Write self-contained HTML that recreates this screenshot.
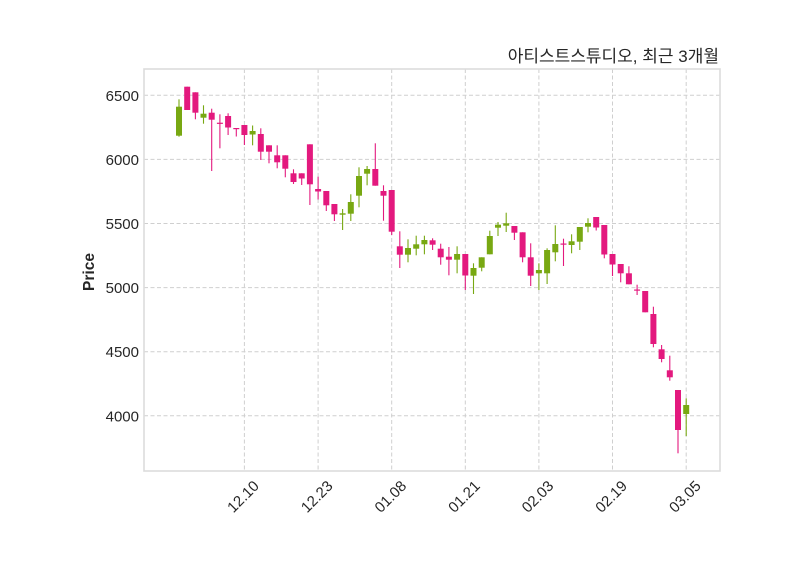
<!DOCTYPE html>
<html>
<head>
<meta charset="utf-8">
<style>
html,body{margin:0;padding:0;background:#fff;}
svg{display:block;}
text{font-family:"Liberation Sans","Noto Sans CJK KR",sans-serif;fill:#262626;}
</style>
</head>
<body>
<svg width="800" height="575" viewBox="0 0 800 575" xmlns="http://www.w3.org/2000/svg">
<rect x="0" y="0" width="800" height="575" fill="#fff"/>
<g stroke="#cfcfcf" stroke-width="1" stroke-dasharray="4,2.5" fill="none">
<line x1="144" x2="720" y1="95.3" y2="95.3"/>
<line x1="144" x2="720" y1="159.4" y2="159.4"/>
<line x1="144" x2="720" y1="223.5" y2="223.5"/>
<line x1="144" x2="720" y1="287.6" y2="287.6"/>
<line x1="144" x2="720" y1="351.7" y2="351.7"/>
<line x1="144" x2="720" y1="415.8" y2="415.8"/>
<line x1="244.4" x2="244.4" y1="69" y2="471"/>
<line x1="318.1" x2="318.1" y1="69" y2="471"/>
<line x1="391.7" x2="391.7" y1="69" y2="471"/>
<line x1="465.3" x2="465.3" y1="69" y2="471"/>
<line x1="538.9" x2="538.9" y1="69" y2="471"/>
<line x1="612.5" x2="612.5" y1="69" y2="471"/>
<line x1="686.2" x2="686.2" y1="69" y2="471"/>
</g>
<rect x="144" y="69" width="576" height="402" fill="none" stroke="#dcdcdc" stroke-width="1.6"/>
<g stroke-width="1.1">
<g stroke="#78a812" fill="#78a812">
<line x1="179" x2="179" y1="99.3" y2="136.7"/><rect x="176" y="106.7" width="6" height="29" stroke="none"/>
<line x1="203.5" x2="203.5" y1="105.3" y2="123.7"/><rect x="200.5" y="113.7" width="6" height="4" stroke="none"/>
<line x1="252.6" x2="252.6" y1="125.5" y2="145.3"/><rect x="249.6" y="131" width="6" height="3.5" stroke="none"/>
<line x1="342.6" x2="342.6" y1="209" y2="230"/><rect x="339.6" y="213.3" width="6" height="1.4" stroke="none"/>
<line x1="350.8" x2="350.8" y1="194.3" y2="221"/><rect x="347.8" y="202" width="6" height="11.7" stroke="none"/>
<line x1="359" x2="359" y1="167.3" y2="207.3"/><rect x="356" y="176" width="6" height="19.7" stroke="none"/>
<line x1="367.1" x2="367.1" y1="166" y2="185.3"/><rect x="364.1" y="169" width="6" height="4.7" stroke="none"/>
<line x1="408" x2="408" y1="239.3" y2="262.3"/><rect x="405" y="248" width="6" height="6.7" stroke="none"/>
<line x1="416.2" x2="416.2" y1="235.7" y2="255.3"/><rect x="413.2" y="244.3" width="6" height="4.4" stroke="none"/>
<line x1="424.4" x2="424.4" y1="235.7" y2="254.3"/><rect x="421.4" y="240" width="6" height="4.3" stroke="none"/>
<line x1="457.1" x2="457.1" y1="246.3" y2="273.3"/><rect x="454.1" y="254" width="6" height="5.7" stroke="none"/>
<line x1="473.5" x2="473.5" y1="263.3" y2="294"/><rect x="470.5" y="268" width="6" height="7.7" stroke="none"/>
<line x1="481.7" x2="481.7" y1="257.3" y2="271.3"/><rect x="478.7" y="257.3" width="6" height="10.4" stroke="none"/>
<line x1="489.8" x2="489.8" y1="230.7" y2="254.3"/><rect x="486.8" y="236" width="6" height="18.3" stroke="none"/>
<line x1="498" x2="498" y1="222" y2="236"/><rect x="495" y="224.7" width="6" height="3" stroke="none"/>
<line x1="506.2" x2="506.2" y1="212.7" y2="232"/><rect x="503.2" y="223.3" width="6" height="2.4" stroke="none"/>
<line x1="538.9" x2="538.9" y1="263.3" y2="290"/><rect x="535.9" y="270" width="6" height="3.3" stroke="none"/>
<line x1="547.1" x2="547.1" y1="248.3" y2="284"/><rect x="544.1" y="250" width="6" height="23.3" stroke="none"/>
<line x1="555.3" x2="555.3" y1="225.3" y2="261.3"/><rect x="552.3" y="244" width="6" height="8.3" stroke="none"/>
<line x1="571.6" x2="571.6" y1="234.3" y2="253.3"/><rect x="568.6" y="241.3" width="6" height="3.7" stroke="none"/>
<line x1="579.8" x2="579.8" y1="227" y2="250"/><rect x="576.8" y="227" width="6" height="14.7" stroke="none"/>
<line x1="588" x2="588" y1="218.3" y2="232.3"/><rect x="585" y="223" width="6" height="3.7" stroke="none"/>
<line x1="686.2" x2="686.2" y1="398.3" y2="436"/><rect x="683.2" y="405" width="6" height="9" stroke="none"/>
</g>
<g stroke="#e3197e" fill="#e3197e">
<line x1="187.2" x2="187.2" y1="86.7" y2="110"/><rect x="184.2" y="86.7" width="6" height="23.3" stroke="none"/>
<line x1="195.4" x2="195.4" y1="92.3" y2="119.3"/><rect x="192.4" y="92.3" width="6" height="20.4" stroke="none"/>
<line x1="211.7" x2="211.7" y1="108.7" y2="171"/><rect x="208.7" y="112.7" width="6" height="7" stroke="none"/>
<line x1="219.9" x2="219.9" y1="114.3" y2="148.3"/><rect x="216.9" y="122.7" width="6" height="1.2" stroke="none"/>
<line x1="228.1" x2="228.1" y1="113.3" y2="135"/><rect x="225.1" y="116" width="6" height="11.5" stroke="none"/>
<line x1="236.3" x2="236.3" y1="128" y2="136.5"/><rect x="233.3" y="128" width="6" height="1.2" stroke="none"/>
<line x1="244.4" x2="244.4" y1="125" y2="145"/><rect x="241.4" y="125" width="6" height="10" stroke="none"/>
<line x1="260.8" x2="260.8" y1="128.3" y2="160"/><rect x="257.8" y="134" width="6" height="17.7" stroke="none"/>
<line x1="269" x2="269" y1="145.3" y2="163.3"/><rect x="266" y="145.3" width="6" height="6.4" stroke="none"/>
<line x1="277.2" x2="277.2" y1="145.3" y2="168.3"/><rect x="274.2" y="155.3" width="6" height="7" stroke="none"/>
<line x1="285.3" x2="285.3" y1="155.3" y2="177.3"/><rect x="282.3" y="155.3" width="6" height="13.4" stroke="none"/>
<line x1="293.5" x2="293.5" y1="169.3" y2="184"/><rect x="290.5" y="173.3" width="6" height="8.7" stroke="none"/>
<line x1="301.7" x2="301.7" y1="173.3" y2="185"/><rect x="298.7" y="173.3" width="6" height="5.2" stroke="none"/>
<line x1="309.9" x2="309.9" y1="144.3" y2="205"/><rect x="306.9" y="144.3" width="6" height="40" stroke="none"/>
<line x1="318.1" x2="318.1" y1="176.7" y2="199.5"/><rect x="315.1" y="189" width="6" height="2.5" stroke="none"/>
<line x1="326.3" x2="326.3" y1="191" y2="211"/><rect x="323.3" y="191" width="6" height="14.3" stroke="none"/>
<line x1="334.4" x2="334.4" y1="204" y2="221"/><rect x="331.4" y="204" width="6" height="10.3" stroke="none"/>
<line x1="375.3" x2="375.3" y1="143.3" y2="185.7"/><rect x="372.3" y="169" width="6" height="16.7" stroke="none"/>
<line x1="383.5" x2="383.5" y1="185.3" y2="220.7"/><rect x="380.5" y="191" width="6" height="4.7" stroke="none"/>
<line x1="391.7" x2="391.7" y1="190" y2="235"/><rect x="388.7" y="190" width="6" height="41.7" stroke="none"/>
<line x1="399.8" x2="399.8" y1="231.3" y2="268"/><rect x="396.8" y="246.3" width="6" height="8.4" stroke="none"/>
<line x1="432.6" x2="432.6" y1="238.3" y2="250"/><rect x="429.6" y="240.3" width="6" height="4.4" stroke="none"/>
<line x1="440.7" x2="440.7" y1="243.7" y2="264.7"/><rect x="437.7" y="248.7" width="6" height="8.6" stroke="none"/>
<line x1="448.9" x2="448.9" y1="247" y2="275.3"/><rect x="445.9" y="256.7" width="6" height="3" stroke="none"/>
<line x1="465.3" x2="465.3" y1="254" y2="290"/><rect x="462.3" y="254" width="6" height="21.5" stroke="none"/>
<line x1="514.4" x2="514.4" y1="226" y2="240"/><rect x="511.4" y="226" width="6" height="6.7" stroke="none"/>
<line x1="522.6" x2="522.6" y1="232.3" y2="262.3"/><rect x="519.6" y="232.3" width="6" height="25" stroke="none"/>
<line x1="530.7" x2="530.7" y1="243.3" y2="286"/><rect x="527.7" y="257.3" width="6" height="18.4" stroke="none"/>
<line x1="563.5" x2="563.5" y1="238.7" y2="266"/><rect x="560.5" y="243.5" width="6" height="1.2" stroke="none"/>
<line x1="596.2" x2="596.2" y1="217" y2="230.5"/><rect x="593.2" y="217" width="6" height="10.5" stroke="none"/>
<line x1="604.3" x2="604.3" y1="225" y2="258.3"/><rect x="601.3" y="225" width="6" height="29.5" stroke="none"/>
<line x1="612.5" x2="612.5" y1="254" y2="276"/><rect x="609.5" y="254" width="6" height="10.5" stroke="none"/>
<line x1="620.7" x2="620.7" y1="264" y2="282.3"/><rect x="617.7" y="264" width="6" height="9.3" stroke="none"/>
<line x1="628.9" x2="628.9" y1="266.3" y2="284.3"/><rect x="625.9" y="273.3" width="6" height="11" stroke="none"/>
<line x1="637.1" x2="637.1" y1="284.7" y2="295"/><rect x="634.1" y="289.5" width="6" height="1.2" stroke="none"/>
<line x1="645.2" x2="645.2" y1="291" y2="312.3"/><rect x="642.2" y="291" width="6" height="21.3" stroke="none"/>
<line x1="653.4" x2="653.4" y1="306.7" y2="347.3"/><rect x="650.4" y="314" width="6" height="30" stroke="none"/>
<line x1="661.6" x2="661.6" y1="345" y2="362.3"/><rect x="658.6" y="349.3" width="6" height="9.7" stroke="none"/>
<line x1="669.8" x2="669.8" y1="355.7" y2="380.7"/><rect x="666.8" y="370.3" width="6" height="7" stroke="none"/>
<line x1="678" x2="678" y1="390" y2="453.3"/><rect x="675" y="390" width="6" height="40" stroke="none"/>
</g>
</g>
<g font-size="15" text-anchor="end">
<text x="139" y="100.8">6500</text>
<text x="139" y="164.9">6000</text>
<text x="139" y="229">5500</text>
<text x="139" y="293.1">5000</text>
<text x="139" y="357.2">4500</text>
<text x="139" y="421.3">4000</text>
</g>
<text transform="translate(94,272) rotate(-90)" text-anchor="middle" font-size="15.5" font-weight="bold">Price</text>
<g font-size="15" text-anchor="middle" dominant-baseline="central">
<text transform="translate(243.5,497) rotate(-45)">12.10</text>
<text transform="translate(317.2,497) rotate(-45)">12.23</text>
<text transform="translate(390.8,497) rotate(-45)">01.08</text>
<text transform="translate(464.4,497) rotate(-45)">01.21</text>
<text transform="translate(538,497) rotate(-45)">02.03</text>
<text transform="translate(611.6,497) rotate(-45)">02.19</text>
<text transform="translate(685.3,497) rotate(-45)">03.05</text>
</g>
<text x="719" y="62" text-anchor="end" font-size="17">아티스트스튜디오, 최근 3개월</text>
</svg>
</body>
</html>
